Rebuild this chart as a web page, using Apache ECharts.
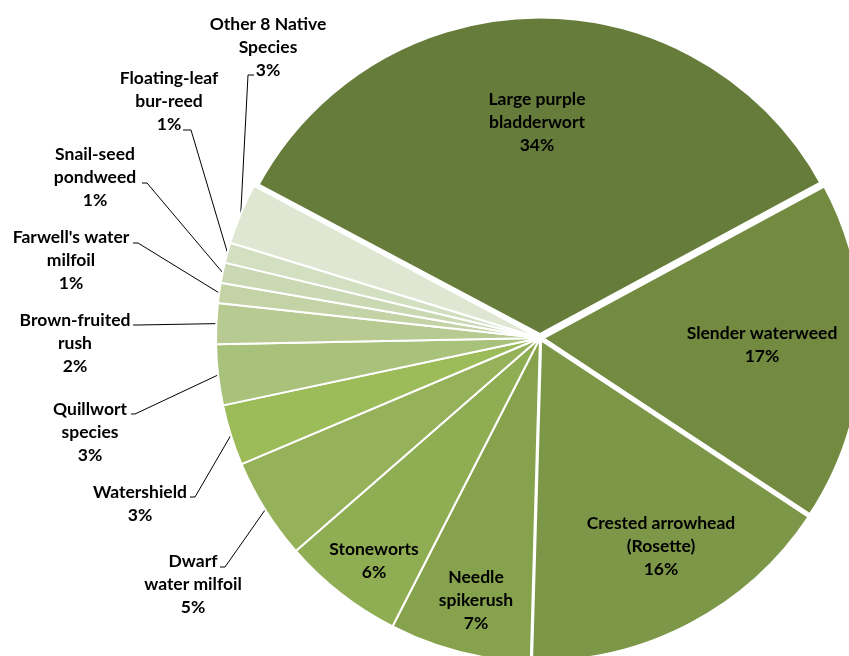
<!DOCTYPE html>
<html>
<head>
<meta charset="utf-8">
<script src="https://cdn.jsdelivr.net/npm/echarts@6/dist/echarts.min.js"></script>
<style>
  html, body { margin: 0; padding: 0; background: #ffffff; }
  #chart { width: 849px; height: 656px; }
</style>
</head>
<body>
<div id="chart"></div>
<script>
// Native aquatic plant community: share of each species (percent)
const species = [
  'Large purple\nbladderwort',
  'Slender waterweed',
  'Crested arrowhead\n(Rosette)',
  'Needle\nspikerush',
  'Stoneworts',
  'Dwarf\nwater milfoil',
  'Watershield',
  'Quillwort\nspecies',
  'Brown-fruited\nrush',
  "Farwell's water\nmilfoil",
  'Snail-seed\npondweed',
  'Floating-leaf\nbur-reed',
  'Other 8 Native\nSpecies'
];
const sharePct = [34, 17, 16, 7, 6, 5, 3, 3, 2, 1, 1, 1, 3];

// Monochrome green shades, dark to light
const sliceColors = [
  '#667C3A', '#728B40', '#7C9747', '#86A24C', '#8FAD52', '#95B159',
  '#9CBB59', '#A9C27B', '#B6CA92', '#C3D3A6', '#CAD8B3', '#D3DFC1', '#DFE7D3'
];
// White separators; the three largest slices get wider gaps
const sliceBorders = [9, 5.5, 4.5, 2, 2, 2, 2, 2, 2, 2, 2, 2, 2];
const labelInside = [true, true, true, true, true, false, false, false, false, false, false, false, false];

// Label placement: centre of the text block, and for callouts the short
// horizontal tail next to the text [x at text, x at bend, y]
const labelSpots = [
  { c: [537, 122] },
  { c: [762, 345] },
  { c: [661, 546] },
  { c: [476, 600] },
  { c: [374, 561] },
  { c: [193, 584], tail: [220, 225, 567] },
  { c: [140, 504], tail: [190, 195, 497] },
  { c: [90, 432],  tail: [131, 135, 414] },
  { c: [75, 343],  tail: [133, 138, 325] },
  { c: [71, 260],  tail: [133, 138, 243] },
  { c: [95, 177],  tail: [142, 147, 183] },
  { c: [169, 101], tail: [183, 191, 130] },
  { c: [268, 47],  tail: [254, 248, 75] }
];

const CENTER = [540, 338];
const RADIUS = 324;
const START = 152;

const total = sharePct.reduce((a, b) => a + b, 0);
function arcMidPoint(i) {
  let before = 0;
  for (let k = 0; k < i; k++) before += sharePct[k];
  const mid = START - (before + sharePct[i] / 2) / total * 360;
  const rad = mid * Math.PI / 180;
  return [CENTER[0] + RADIUS * Math.cos(rad), CENTER[1] - RADIUS * Math.sin(rad)];
}

const pieData = species.map((name, i) => ({
  name: name,
  value: sharePct[i],
  itemStyle: { color: sliceColors[i], borderColor: '#ffffff', borderWidth: sliceBorders[i] },
  label: { position: labelInside[i] ? 'inside' : 'outside' },
  labelLine: { show: !labelInside[i] }
}));

const chart = echarts.init(document.getElementById('chart'), null, { renderer: 'canvas' });
chart.setOption({
  animation: false,
  backgroundColor: '#ffffff',
  series: [{
    type: 'pie',
    center: CENTER,
    radius: RADIUS,
    startAngle: START,
    clockwise: true,
    avoidLabelOverlap: false,
    silent: true,
    data: pieData,
    label: {
      show: true,
      formatter: p => p.name + '\n' + p.value + '%',
      fontFamily: 'Lato',
      fontWeight: 'bold',
      fontSize: 17.5,
      lineHeight: 23,
      color: '#000000',
      align: 'center'
    },
    labelLine: {
      show: true,
      length: 10,
      length2: 5,
      lineStyle: { color: '#000000', width: 1 }
    },
    labelLayout: function (p) {
      const s = labelSpots[p.dataIndex];
      const out = { x: s.c[0], y: s.c[1], align: 'center', verticalAlign: 'middle' };
      if (s.tail) {
        const a = (p.labelLinePoints && p.labelLinePoints[0]) || arcMidPoint(p.dataIndex);
        out.labelLinePoints = [[a[0], a[1]], [s.tail[1], s.tail[2]], [s.tail[0], s.tail[2]]];
      }
      return out;
    }
  }]
});
</script>
</body>
</html>
